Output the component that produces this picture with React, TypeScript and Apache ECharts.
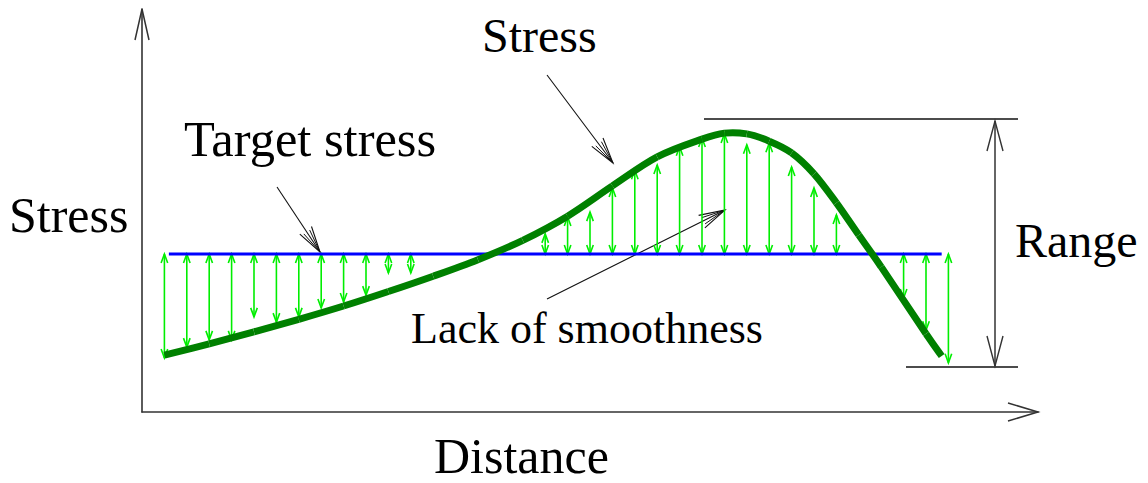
import React, { useEffect, useRef } from "react";
import * as echarts from "echarts";

// ---- data (distance in arrow-spacing units, stress in arbitrary units) ----
const curveDistance = [0, 2, 4, 6, 8, 10, 12, 14, 16, 18, 20, 22, 24, 25, 26, 27, 28, 29, 30, 31, 32, 34, 34.7];
const curveStress = [14.1, 16.9, 19.9, 23.0, 26.3, 29.9, 33.7, 37.8, 42.6, 48.6, 56.1, 63.3, 67.7, 69.2, 69.0, 67.2, 64.3, 59.1, 51.9, 43.9, 36.0, 19.4, 13.9];

const targetStress = 39.2;
const targetStart = 0.2;
const targetEnd = 34.7;

const deviationDistance = [0, 1, 2, 3, 4, 5, 6, 7, 8, 9, 10, 11, 17, 18, 19, 20, 21, 22, 23, 24, 25, 26, 27, 28, 29, 30, 33, 34, 35];
const deviationStress = [13.4, 16.1, 17.9, 17.9, 23.6, 22.3, 23.6, 25.8, 27.3, 29.0, 34.5, 34.5, 44.2, 48.4, 49.6, 55.6, 60.0, 61.3, 65.8, 68.0, 69.0, 66.3, 66.7, 60.8, 55.6, 48.9, 28.3, 20.3, 12.2];

const labelStressAxis = "Stress";
const labelDistance = "Distance";
const labelTarget = "Target stress";
const labelStressCurve = "Stress";
const labelSmooth = "Lack of smoothness";
const labelRange = "Range";

const FONT = '"Liberation Serif", "Times New Roman", serif';
const LIME = "#00ee00";
const DARK_GREEN = "#008000";

function arrowHead(tx: number, ty: number, fx: number, fy: number, len: number, half: number, color: string, lw: number) {
  const dx = tx - fx, dy = ty - fy;
  const d = Math.sqrt(dx * dx + dy * dy) || 1;
  const ux = dx / d, uy = dy / d;
  const bx = tx - ux * len, by = ty - uy * len;
  return {
    type: "polyline",
    silent: true,
    shape: { points: [[bx - uy * half, by + ux * half], [tx, ty], [bx + uy * half, by - ux * half]] },
    style: { stroke: color, fill: "none", lineWidth: lw },
  };
}

function pointer(x1: number, y1: number, x2: number, y2: number) {
  return {
    type: "group",
    children: [
      { type: "line", silent: true, shape: { x1, y1, x2, y2 }, style: { stroke: "#111", lineWidth: 1.1 } },
      arrowHead(x2, y2, x1, y1, 26, 7, "#111", 1.1),
      arrowHead(x2, y2, x1, y1, 24, 3.5, "#111", 1.0),
    ],
  };
}

function label(text: string, x: number, baseline: number, fs: number) {
  return {
    type: "text",
    silent: true,
    style: {
      text,
      x,
      y: baseline - 0.3375 * fs,
      font: `${fs}px ${FONT}`,
      fontFamily: FONT,
      fontSize: fs,
      fill: "#000",
      textAlign: "left",
      align: "left",
      textVerticalAlign: "middle",
      verticalAlign: "middle",
    },
  };
}

export default function App() {
  const ref = useRef<HTMLDivElement>(null);
  useEffect(() => {
    if (!ref.current) return;
    const chart = echarts.init(ref.current, undefined, { renderer: "svg" });
    const gridLeft = 142, gridTop = 9, gridRight = 110, gridBottom = 71;
    const W = 1148, H = 483;
    const xEnd = W - gridRight, yBase = H - gridBottom;

    const curveData = curveDistance.map((d, i) => [d, curveStress[i]]);
    const devData = deviationDistance.map((d, i) => [d, targetStress, deviationStress[i]]);
    const n = curveData.length;

    chart.setOption({
      animation: false,
      backgroundColor: "#fff",
      grid: { left: gridLeft, top: gridTop, right: gridRight, bottom: gridBottom, containLabel: false },
      xAxis: {
        type: "value", min: -1, max: 39,
        axisLine: { show: true, onZero: false, lineStyle: { color: "#333", width: 1.6 } },
        axisTick: { show: false }, axisLabel: { show: false }, splitLine: { show: false },
      },
      yAxis: {
        type: "value", min: 0, max: 100,
        axisLine: { show: true, onZero: false, lineStyle: { color: "#333", width: 1.6 } },
        axisTick: { show: false }, axisLabel: { show: false }, splitLine: { show: false },
      },
      series: [
        {
          type: "custom",
          name: "Deviation",
          data: devData,
          encode: { x: 0, y: [1, 2] },
          z: 2,
          renderItem: (params: any, api: any) => {
            const x = api.value(0), a = api.value(1), b = api.value(2);
            const p1 = api.coord([x, a]);
            const p2 = api.coord([x, b]);
            return {
              type: "group",
              children: [
                { type: "line", shape: { x1: p1[0], y1: p1[1], x2: p2[0], y2: p2[1] }, style: { stroke: LIME, lineWidth: 1.6 } },
                arrowHead(p1[0], p1[1], p2[0], p2[1], 9, 3.3, LIME, 1.6),
                arrowHead(p2[0], p2[1], p1[0], p1[1], 9, 3.3, LIME, 1.6),
              ],
            };
          },
        },
        {
          type: "line",
          name: "Target stress",
          data: [[targetStart, targetStress], [targetEnd, targetStress]],
          showSymbol: false,
          symbol: "none",
          z: 3,
          lineStyle: { color: "#0000ff", width: 3 },
        },
        {
          type: "custom",
          name: "Stress",
          data: curveData,
          encode: { x: 0, y: 1 },
          z: 4,
          renderItem: (params: any, api: any) => {
            const i = params.dataIndex;
            if (i >= n - 1) return { type: "group", children: [] };
            const c = (j: number) => api.coord(curveData[Math.max(0, Math.min(n - 1, j))]);
            const p0 = c(i - 1), p1 = c(i), p2 = c(i + 1), p3 = c(i + 2);
            return {
              type: "bezierCurve",
              shape: {
                x1: p1[0], y1: p1[1],
                x2: p2[0], y2: p2[1],
                cpx1: p1[0] + (p2[0] - p0[0]) / 6,
                cpy1: p1[1] + (p2[1] - p0[1]) / 6,
                cpx2: p2[0] - (p3[0] - p1[0]) / 6,
                cpy2: p2[1] - (p3[1] - p1[1]) / 6,
              },
              style: { stroke: DARK_GREEN, fill: "none", lineWidth: 7, lineCap: "butt" },
            };
          },
        },
      ],
      graphic: [
        // axis arrowheads
        arrowHead(gridLeft, gridTop, gridLeft, gridTop + 40, 31, 7, "#333", 1.5),
        arrowHead(xEnd, yBase, xEnd - 40, yBase, 30, 9, "#333", 1.5),
        // range bracket
        { type: "line", silent: true, shape: { x1: 704, y1: 119, x2: 1018, y2: 119 }, style: { stroke: "#111", lineWidth: 1.3 } },
        { type: "line", silent: true, shape: { x1: 906, y1: 367, x2: 1018, y2: 367 }, style: { stroke: "#111", lineWidth: 1.3 } },
        { type: "line", silent: true, shape: { x1: 995, y1: 121, x2: 995, y2: 366 }, style: { stroke: "#333", lineWidth: 1.5 } },
        arrowHead(995, 121, 995, 200, 30, 8, "#333", 1.4),
        arrowHead(995, 366, 995, 300, 30, 8, "#333", 1.4),
        // pointers
        pointer(277, 187, 320, 252),
        pointer(547, 75, 613, 163),
        pointer(547, 299, 725, 210),
        // labels
        label(labelStressAxis, 9, 232, 50),
        label(labelStressCurve, 482, 52, 48),
        label(labelTarget, 184, 156, 50.5),
        label(labelSmooth, 411, 343, 44),
        label(labelDistance, 434, 473, 50),
        label(labelRange, 1015, 257, 48),
      ],
    });
    return () => chart.dispose();
  }, []);
  return (
    <div
      ref={ref}
      style={{ position: "fixed", left: 0, top: 0, width: 1148, height: 483, background: "#fff" }}
    />
  );
}
